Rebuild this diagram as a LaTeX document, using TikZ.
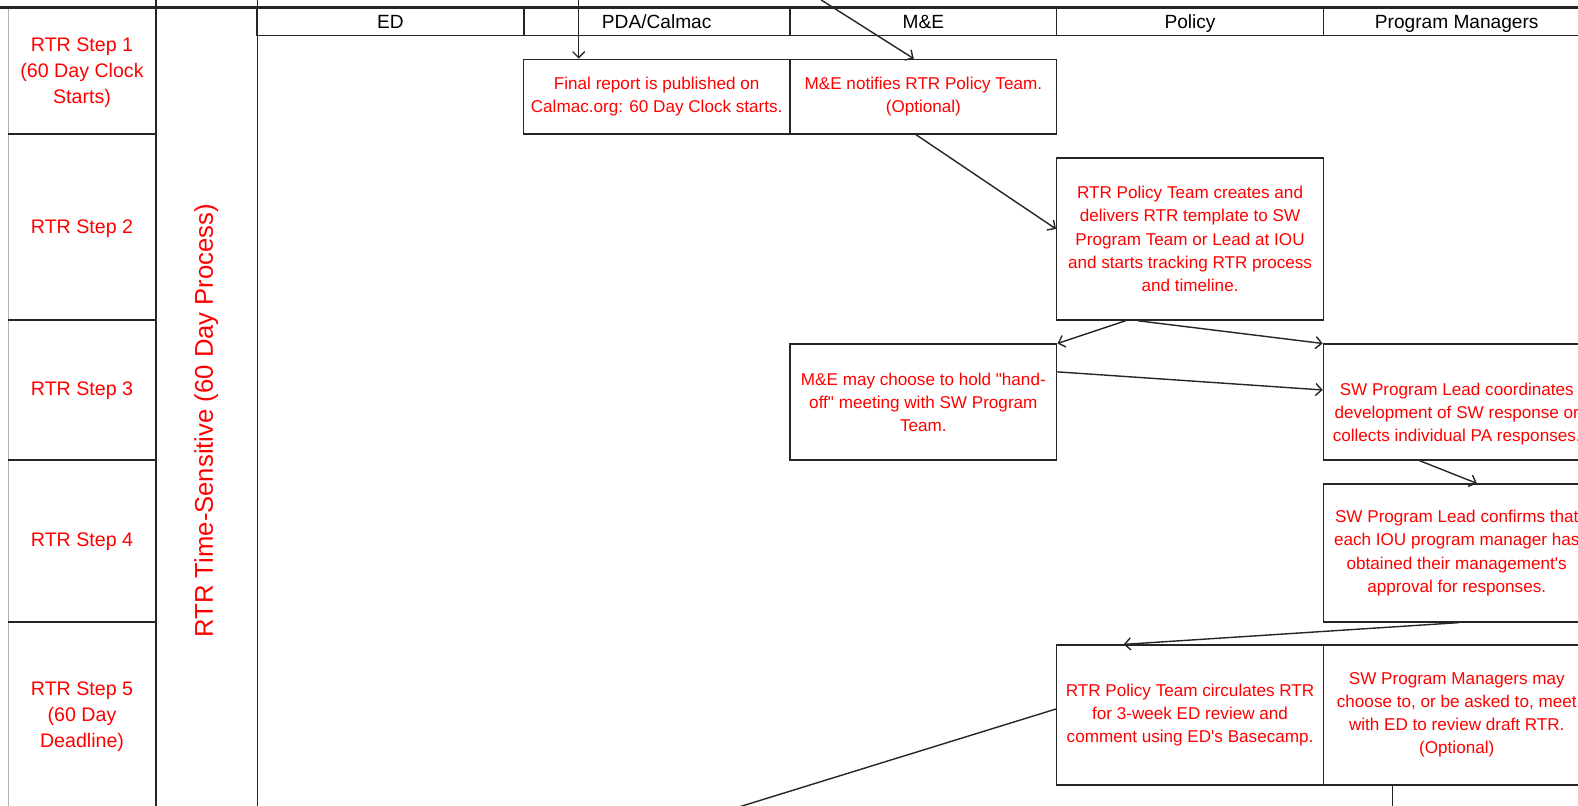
\documentclass[tikz,border=0pt]{standalone}
\usepackage{fontspec}
\setmainfont{Liberation Sans}
\usetikzlibrary{arrows.meta}

\tikzset{
  rtr_line/.style = {draw=black!85, line width=1.4pt},
  rtr_box/.style = {rtr_line, rectangle, align=center, text=red, inner sep=0pt,
    minimum width=265pt, font=\fontsize{17}{23}\selectfont},% boite d'action
  rtr_head/.style = {rtr_line, rectangle, align=center, inner sep=0pt,
    minimum width=265pt, minimum height=28pt, text height=15.6pt, text depth=0pt,
    font=\fontsize{19}{23}\selectfont},% entete de couloir
  rtr_step/.style = {align=center, text=red, inner sep=0pt,
    font=\fontsize{19.5}{26}\selectfont},% etape RTR
  rtr_arrow/.style = {rtr_line, -{Straight Barb[length=6pt,width=12pt]}}% fleche
}

\begin{document}
\begin{tikzpicture}[x=1pt, y=-1pt]
  \useasboundingbox (0,0) rectangle (1568,800);
  \clip (0,0) rectangle (1568,800);

  % grille
  \draw[black!30, line width=1pt] (8,7) -- (8,805);
  \draw[rtr_line] (155,0) -- (155,805);
  \draw[rtr_line] (256,0) -- (256,805);
  \foreach \y in {133,318,457,618}
    \draw[rtr_line] (8,\y) -- (155,\y);
  \draw[rtr_line] (256,35) -- (1580,35);

  \node [rtr_head] (ed) at (388,21) {ED};
  \node [rtr_head] (pda) at (652.5,21) {PDA/Calmac};
  \node [rtr_head] (me) at (917.5,21) {M\&E};
  \node [rtr_head] (policy) at (1182.5,21) {Policy};
  \node [rtr_head] (pm) at (1447.5,21) {Program Managers};
  \draw[line width=3pt, black!85] (0,7) -- (1580,7);

  \node [rtr_step] (step1) at (81.5,72) {RTR Step 1\\(60 Day Clock\\Starts)};
  \node [rtr_step] (step2) at (81.5,227) {RTR Step 2};
  \node [rtr_step] (step3) at (81.5,388) {RTR Step 3};
  \node [rtr_step] (step4) at (81.5,538) {RTR Step 4};
  \node [rtr_step] (step5) at (81.5,712) {RTR Step 5\\(60 Day\\Deadline)};
  \node [rtr_step, rotate=90, font=\fontsize{25.5}{30}\selectfont] (process) at (205,418)
    {RTR Time-Sensitive (60 Day Process)};

  % actions
  \node [rtr_box, minimum height=74pt] (publish) at (652.5,96)
    {Final report is published on\\Calmac.org: 60 Day Clock starts.};
  \node [rtr_box, minimum height=74pt] (notify) at (917.5,96)
    {M\&E notifies RTR Policy Team.\\(Optional)};
  \node [rtr_box, minimum height=161pt] (template) at (1182.5,237.5)
    {RTR Policy Team creates and\\delivers RTR template to SW\\Program Team or Lead at IOU\\and starts tracking RTR process\\and timeline.};
  \node [rtr_box, minimum height=115pt] (handoff) at (917.5,399.5)
    {M\&E may choose to hold \textquotedbl hand-\\off\textquotedbl{} meeting with SW Program\\Team.};
  \node [rtr_box, minimum height=115pt, text height=82pt] (lead) at (1447.5,399.5)
    {SW Program Lead coordinates\\development of SW response or\\collects individual PA responses.};
  \node [rtr_box, minimum height=137pt] (confirm) at (1447.5,549.5)
    {SW Program Lead confirms that\\each IOU program manager has\\obtained their management\textquotesingle s\\approval for responses.};
  \node [rtr_box, minimum height=139pt] (circulate) at (1182.5,710.5)
    {RTR Policy Team circulates RTR\\for 3-week ED review and\\comment using ED\textquotesingle s Basecamp.};
  \node [rtr_box, minimum height=139pt] (meet) at (1447.5,710.5)
    {SW Program Managers may\\choose to, or be asked to, meet\\with ED to review draft RTR.\\(Optional)};

  \coordinate (in_pda) at (575,0);
  \coordinate (in_me) at (816,0);
  \coordinate (out_ed) at (724,805);
  \coordinate (out_pm) at (1383.5,805);

  % fleches
  \draw[rtr_arrow] (in_pda) -- ([xshift=-77.5pt]publish.north);
  \draw[rtr_arrow] (in_me) -- ([xshift=-9.5pt]notify.north);
  \draw[rtr_arrow] ([xshift=-7.5pt]notify.south) -- ([yshift=10pt]template.west);
  \draw[rtr_arrow] ([xshift=-64pt]template.south) -- (handoff.north east);
  \draw[rtr_arrow] ([xshift=-52pt]template.south) -- (lead.north west);
  \draw[rtr_arrow] ([yshift=30pt]handoff.east) -- ([yshift=12pt]lead.west);
  \draw[rtr_arrow] ([xshift=-37pt]lead.south) -- ([xshift=20pt]confirm.north);
  \draw[rtr_arrow] ([xshift=2pt]confirm.south) -- ([xshift=-66pt]circulate.north);
  \draw[rtr_line] ([yshift=6pt]circulate.west) -- (out_ed);
  \draw[rtr_line] ([xshift=-64pt]meet.south) -- (out_pm);
\end{tikzpicture}
\end{document}
